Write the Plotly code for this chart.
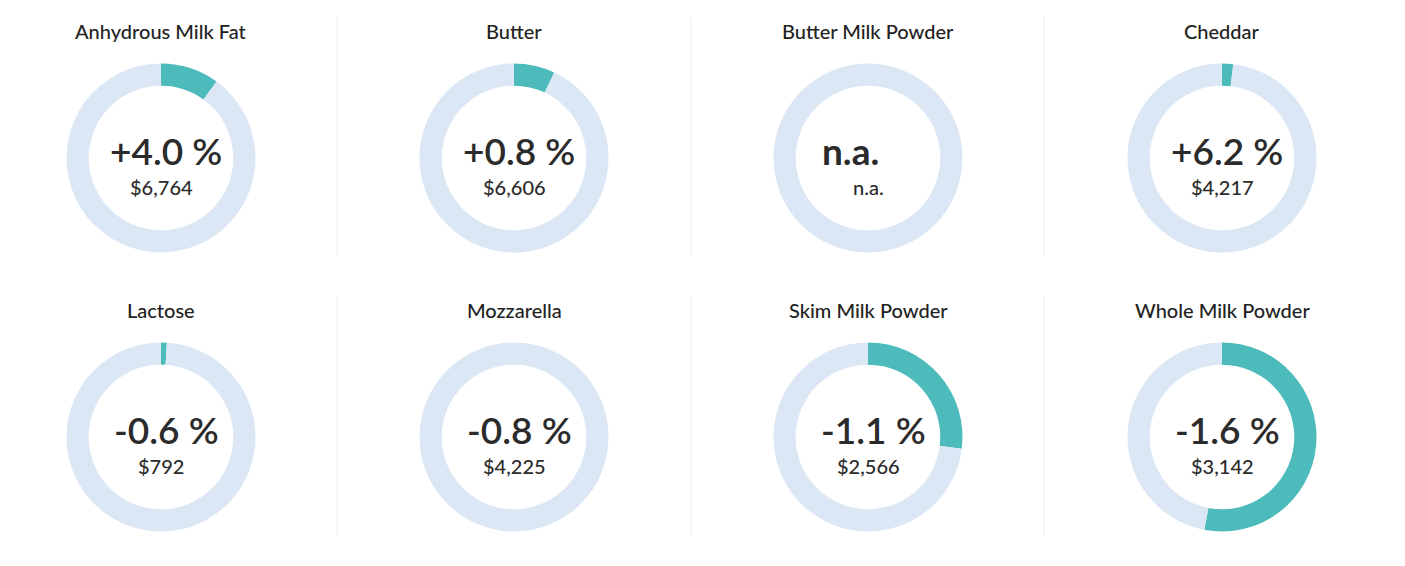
import plotly.graph_objects as go

# product names, price change labels, prices and the share drawn in teal
products = ["Anhydrous Milk Fat", "Butter", "Butter Milk Powder", "Cheddar",
            "Lactose", "Mozzarella", "Skim Milk Powder", "Whole Milk Powder"]
changes = ["+4.0 %", "+0.8 %", "n.a.", "+6.2 %", "-0.6 %", "-0.8 %", "-1.1 %", "-1.6 %"]
prices = ["$6,764", "$6,606", "n.a.", "$4,217", "$792", "$4,225", "$2,566", "$3,142"]
shares = [0.10, 0.07, 0.0, 0.019, 0.01, 0.0, 0.27, 0.53]

W, H = 1405, 566
OFF = 8  # the page body adds an 8px margin, pull everything back by that
col_cx = [161, 514, 868, 1222]
row_cy = [158, 437]
radius = 94.5

TEAL = "#4dbbbc"
LIGHT = "#dce7f5"
FONT = "Lato"


def px(x):
    return (x - OFF) / W


def py(y):
    return 1 - (y - OFF) / H


fig = go.Figure()
annotations = []

for i, name in enumerate(products):
    cx = col_cx[i % 4]
    cy = row_cy[i // 4]

    fig.add_trace(go.Pie(values=[shares[i], 1 - shares[i]],
                         labels=["change", "rest"],
                         marker=dict(colors=[TEAL, LIGHT], line=dict(width=0)),
                         hole=0.765,
                         sort=False,
                         direction="clockwise",
                         rotation=0,
                         textinfo="none",
                         hoverinfo="skip",
                         showlegend=False,
                         domain=dict(x=[px(cx - radius), px(cx + radius)],
                                     y=[py(cy + radius), py(cy - radius)])))

    # title above the ring
    annotations.append(dict(x=px(cx), y=py(cy - 127), xref="paper", yref="paper",
                            text=name, showarrow=False, xanchor="center", yanchor="middle",
                            font=dict(family=FONT, size=20, color="#222222", weight=500)))

    # big change label, the n.a. one sits a bit to the left
    shift = -18 if changes[i] == "n.a." else 5
    weight = "bold" if changes[i] == "n.a." else 600
    annotations.append(dict(x=px(cx + shift), y=py(cy - 8), xref="paper", yref="paper",
                            text=changes[i], showarrow=False, xanchor="center", yanchor="middle",
                            font=dict(family=FONT, size=37, color="#2b2b2b", weight=weight)))

    # price under it
    annotations.append(dict(x=px(cx), y=py(cy + 29), xref="paper", yref="paper",
                            text=prices[i], showarrow=False, xanchor="center", yanchor="middle",
                            font=dict(family=FONT, size=20, color="#2b2b2b", weight=500)))

# thin separators between the columns
shapes = []
for sx in [337, 691, 1044]:
    for top, bottom in [(17, 256), (296, 536)]:
        shapes.append(dict(type="line", xref="paper", yref="paper",
                           x0=px(sx), x1=px(sx), y0=py(top), y1=py(bottom),
                           line=dict(color="#ececec", width=1)))

fig.update_layout(width=W, height=H,
                  margin=dict(l=0, r=0, t=0, b=0),
                  paper_bgcolor="white",
                  plot_bgcolor="white",
                  annotations=annotations,
                  shapes=shapes)

fig.write_html("out.html")
